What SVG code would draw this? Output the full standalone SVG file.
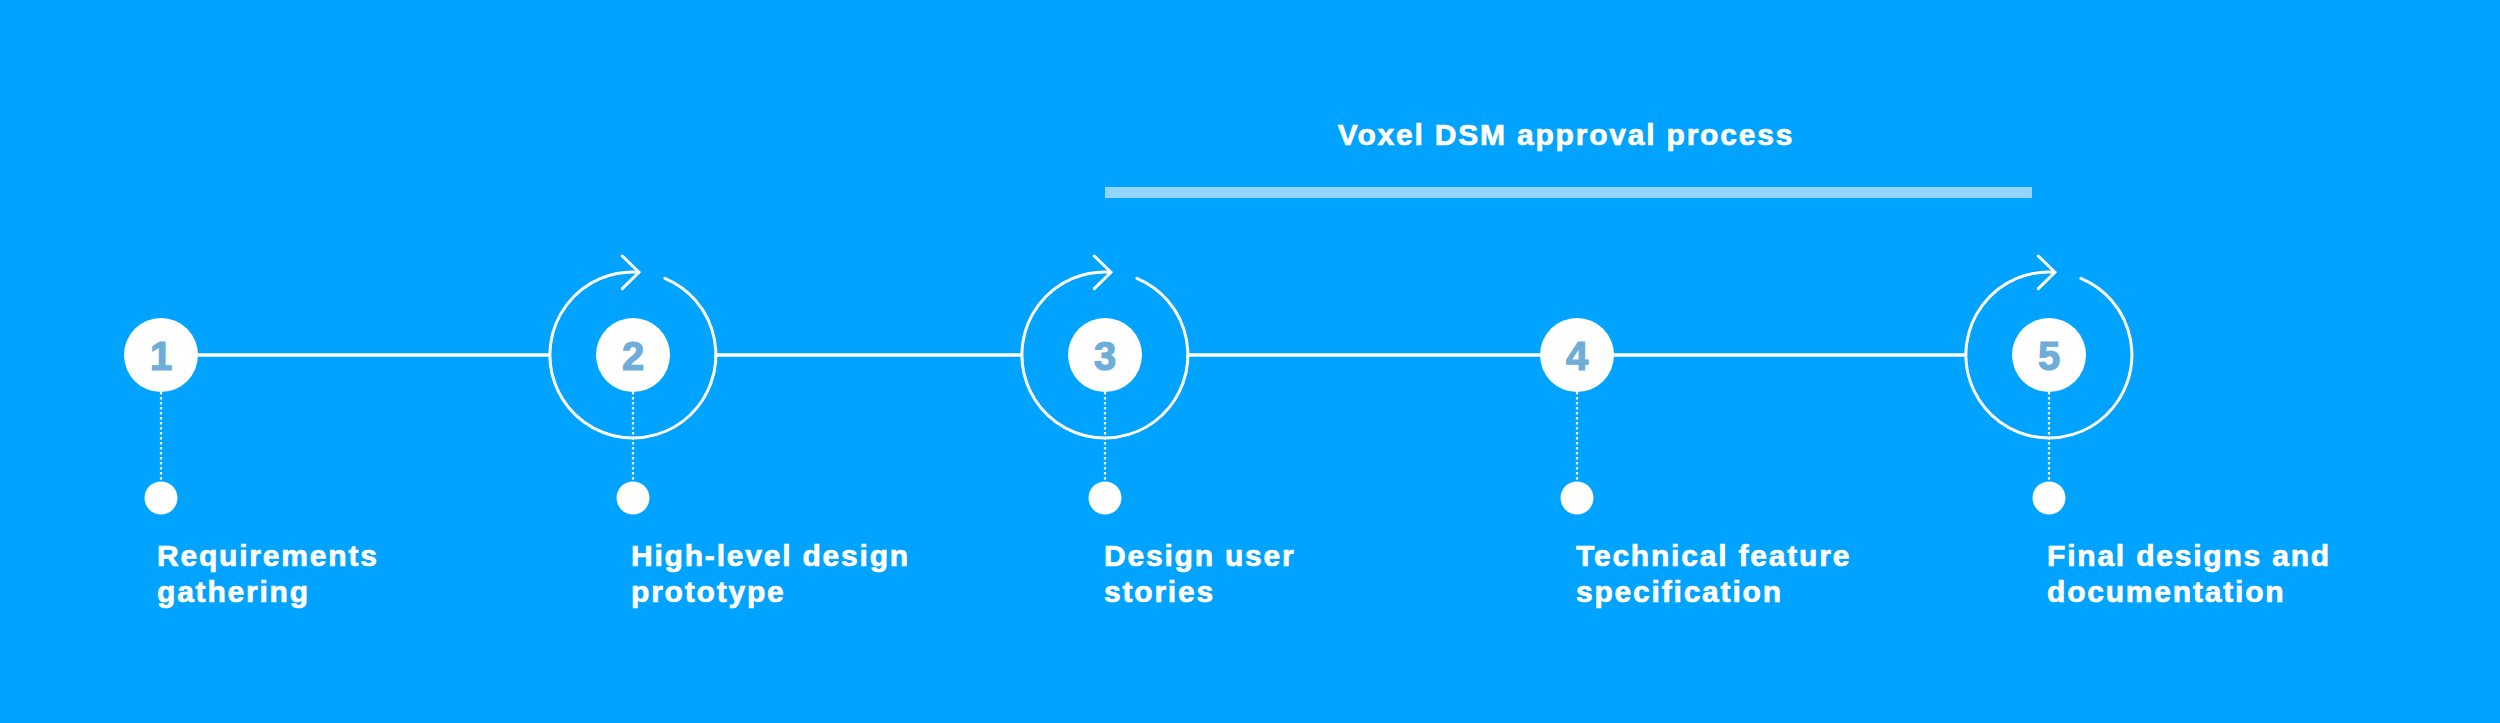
<svg xmlns="http://www.w3.org/2000/svg" width="2500" height="723" viewBox="0 0 2500 723">
<defs>
<style>
.bg{fill:#00A3FF}
.lbl{font-family:"Liberation Sans",Arial,sans-serif;font-weight:bold;font-size:30px;letter-spacing:1.8px;fill:#ffffff;stroke:#ffffff;stroke-width:0.7px}
.num{font-family:"Liberation Sans",Arial,sans-serif;font-weight:bold;font-size:40px;fill:#6DADD8;stroke:#6DADD8;stroke-width:1.2px;text-anchor:middle}
.disc{fill:#ffffff}
.line{stroke:#ffffff;stroke-width:3.5;fill:none}
.loop{stroke:#ffffff;stroke-width:3;fill:none;stroke-linecap:round;stroke-linejoin:round}
.dots{stroke:#ffffff;stroke-width:2.2;stroke-dasharray:2.5 2.5;fill:none}
</style>
</defs>
<rect class="bg" x="0" y="0" width="2500" height="723"/>

<g id="approval-process">
<text x="1566" y="145" class="lbl" style="text-anchor:middle">Voxel DSM approval process</text>
<rect x="1105" y="187" width="927" height="11" fill="#92D5FF"/>
</g>

<g id="connectors">
<line class="line" x1="198" y1="355" x2="550" y2="355"/>
<line class="line" x1="716" y1="355" x2="1022" y2="355"/>
<line class="line" x1="1188" y1="355" x2="1540" y2="355"/>
<line class="line" x1="1613" y1="355" x2="1966" y2="355"/>
<line class="dots" x1="161" y1="392" x2="161" y2="482"/>
<line class="dots" x1="633" y1="392" x2="633" y2="482"/>
<line class="dots" x1="1105" y1="392" x2="1105" y2="482"/>
<line class="dots" x1="1577" y1="392" x2="1577" y2="482"/>
<line class="dots" x1="2049" y1="392" x2="2049" y2="482"/>
</g>

<g id="step1">
<circle class="disc" cx="161" cy="355" r="37"/>
<text class="num" x="161" y="369.5">1</text>
<circle class="disc" cx="161" cy="498" r="16.5"/>
<text class="lbl" x="157" y="566">Requirements</text>
<text class="lbl" x="157" y="602">gathering</text>
</g>

<g id="step2">
<path class="loop" d="M664.9,278.4 A83,83 0 1 1 639,272.2"/>
<polyline class="loop" points="622.3,256 639,272.3 622.3,288.6"/>
<circle class="disc" cx="633" cy="355" r="37"/>
<text class="num" x="633" y="369.5">2</text>
<circle class="disc" cx="633" cy="498" r="16.5"/>
<text class="lbl" x="631" y="566">High-level design</text>
<text class="lbl" x="631" y="602">prototype</text>
</g>

<g id="step3">
<path class="loop" d="M1136.9,278.4 A83,83 0 1 1 1111,272.2"/>
<polyline class="loop" points="1094.3,256 1111,272.3 1094.3,288.6"/>
<circle class="disc" cx="1105" cy="355" r="37"/>
<text class="num" x="1105" y="369.5">3</text>
<circle class="disc" cx="1105" cy="498" r="16.5"/>
<text class="lbl" x="1104" y="566">Design user</text>
<text class="lbl" x="1104" y="602">stories</text>
</g>

<g id="step4">
<circle class="disc" cx="1577" cy="355" r="37"/>
<text class="num" x="1577" y="369.5">4</text>
<circle class="disc" cx="1577" cy="498" r="16.5"/>
<text class="lbl" x="1576" y="566">Technical feature</text>
<text class="lbl" x="1576" y="602">specification</text>
</g>

<g id="step5">
<path class="loop" d="M2080.9,278.4 A83,83 0 1 1 2055,272.2"/>
<polyline class="loop" points="2038.3,256 2055,272.3 2038.3,288.6"/>
<circle class="disc" cx="2049" cy="355" r="37"/>
<text class="num" x="2049" y="369.5">5</text>
<circle class="disc" cx="2049" cy="498" r="16.5"/>
<text class="lbl" x="2047" y="566">Final designs and</text>
<text class="lbl" x="2047" y="602">documentation</text>
</g>
</svg>
